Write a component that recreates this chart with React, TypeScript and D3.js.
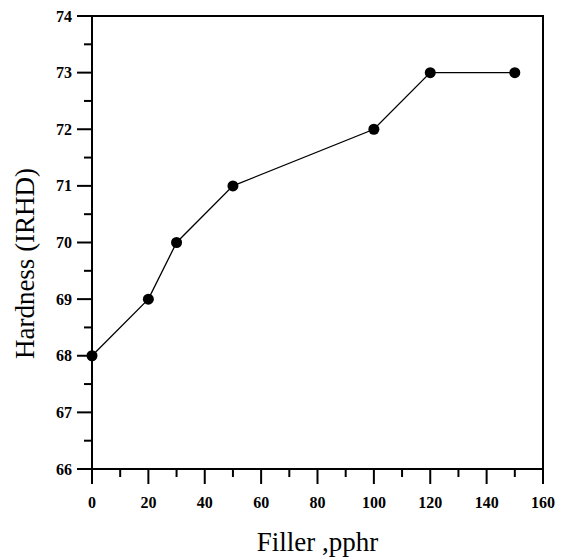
import * as d3 from "d3";

const WIDTH = 568;
const HEIGHT = 558;
const MARGIN = { top: 16, right: 25, bottom: 89, left: 92 };

const filler = [0, 20, 30, 50, 100, 120, 150];
const hardness = [68, 69, 70, 71, 72, 73, 73];
const xTicks = [0, 20, 40, 60, 80, 100, 120, 140, 160];
const yTicks = [66, 67, 68, 69, 70, 71, 72, 73, 74];

const FONT = "'Liberation Serif', 'Times New Roman', serif";

export default function App() {
  const boundsWidth = WIDTH - MARGIN.left - MARGIN.right;
  const boundsHeight = HEIGHT - MARGIN.top - MARGIN.bottom;

  const xScale = d3.scaleLinear().domain([0, 160]).range([0, boundsWidth]);
  const yScale = d3.scaleLinear().domain([66, 74]).range([boundsHeight, 0]);

  const points = filler.map((f, i) => [f, hardness[i]] as [number, number]);
  const linePath = d3
    .line<[number, number]>()
    .x((d) => xScale(d[0]))
    .y((d) => yScale(d[1]))(points);

  // minor ticks sit halfway between the major ones
  const xMinor = xTicks.slice(0, -1).map((t) => t + 10);
  const yMinor = yTicks.slice(0, -1).map((t) => t + 0.5);

  return (
    <svg
      width={WIDTH}
      height={HEIGHT}
      style={{ position: "absolute", left: 0, top: 0 }}
    >
      <g transform={`translate(${MARGIN.left},${MARGIN.top})`}>
        <rect
          x={0}
          y={0}
          width={boundsWidth}
          height={boundsHeight}
          fill="none"
          stroke="#000"
          strokeWidth={2}
        />

        {/* x axis */}
        {xTicks.map((t) => (
          <g key={"x" + t} transform={`translate(${xScale(t)},${boundsHeight})`}>
            <line y1={0} y2={15} stroke="#000" strokeWidth={2} />
            <text
              y={39}
              textAnchor="middle"
              fontFamily={FONT}
              fontWeight="bold"
              fontSize={16}
            >
              {t}
            </text>
          </g>
        ))}
        {xMinor.map((t) => (
          <line
            key={"xm" + t}
            x1={xScale(t)}
            x2={xScale(t)}
            y1={boundsHeight}
            y2={boundsHeight + 8}
            stroke="#000"
            strokeWidth={2}
          />
        ))}

        {/* y axis */}
        {yTicks.map((t) => (
          <g key={"y" + t} transform={`translate(0,${yScale(t)})`}>
            <line x1={-15} x2={0} stroke="#000" strokeWidth={2} />
            <text
              x={-20}
              dy="0.35em"
              textAnchor="end"
              fontFamily={FONT}
              fontWeight="bold"
              fontSize={16}
            >
              {t}
            </text>
          </g>
        ))}
        {yMinor.map((t) => (
          <line
            key={"ym" + t}
            x1={-8}
            x2={0}
            y1={yScale(t)}
            y2={yScale(t)}
            stroke="#000"
            strokeWidth={2}
          />
        ))}

        <path d={linePath ?? ""} fill="none" stroke="#000" strokeWidth={1.3} />
        {points.map((d, i) => (
          <circle key={i} cx={xScale(d[0])} cy={yScale(d[1])} r={5.5} fill="#000" />
        ))}

        <text
          x={317.5 - MARGIN.left}
          y={551 - MARGIN.top}
          textAnchor="middle"
          fontFamily={FONT}
          fontSize={27}
        >
          Filler ,pphr
        </text>
        <text
          transform={`translate(${34 - MARGIN.left},${263.5 - MARGIN.top}) rotate(-90)`}
          textAnchor="middle"
          fontFamily={FONT}
          fontSize={27}
        >
          Hardness (IRHD)
        </text>
      </g>
    </svg>
  );
}
